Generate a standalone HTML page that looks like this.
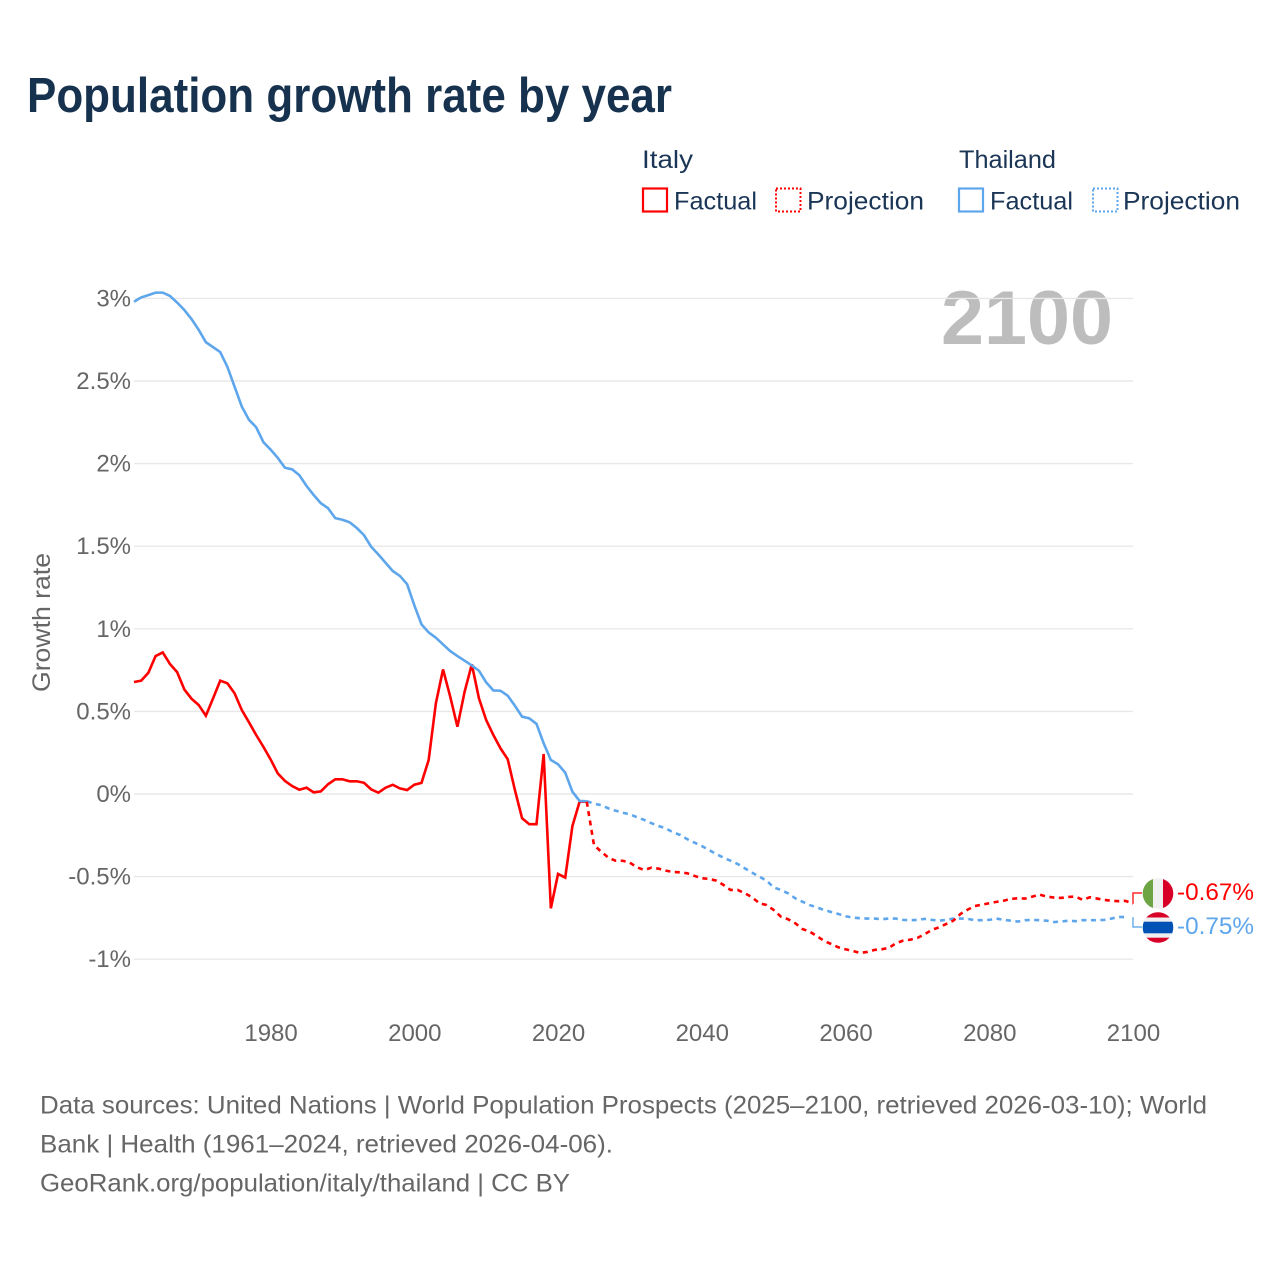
<!DOCTYPE html>
<html lang="en">
<head>
<meta charset="utf-8">
<title>Population growth rate by year</title>
<style>
html,body{margin:0;padding:0;background:#fff;width:1280px;height:1280px;overflow:hidden}
svg{display:block;font-family:"Liberation Sans",sans-serif}
</style>
</head>
<body>
<svg id="chart" xmlns="http://www.w3.org/2000/svg" width="1280" height="1280" viewBox="0 0 1280 1280">
  <rect width="1280" height="1280" fill="#fff"/>
  <text x="27" y="112" font-size="49" font-weight="700" fill="#17324f" textLength="645" lengthAdjust="spacingAndGlyphs">Population growth rate by year</text>

  <g font-size="25" fill="#1a3555">
    <text x="642" y="168" textLength="51" lengthAdjust="spacingAndGlyphs">Italy</text>
    <text x="959" y="168" textLength="97" lengthAdjust="spacingAndGlyphs">Thailand</text>
    <rect x="643" y="188.5" width="24" height="23" fill="none" stroke="#ff0000" stroke-width="2.2"/>
    <text x="674" y="209.5" textLength="83" lengthAdjust="spacingAndGlyphs">Factual</text>
    <rect x="776" y="188.5" width="24.500" height="23" fill="none" stroke="#ff0000" stroke-width="2" stroke-dasharray="2 2"/>
    <text x="807" y="209.5" textLength="117" lengthAdjust="spacingAndGlyphs">Projection</text>
    <rect x="959" y="188.5" width="24" height="23" fill="none" stroke="#5ea6ec" stroke-width="2.2"/>
    <text x="990" y="209.5" textLength="83" lengthAdjust="spacingAndGlyphs">Factual</text>
    <rect x="1093" y="188.5" width="24.500" height="23" fill="none" stroke="#5ea6ec" stroke-width="2" stroke-dasharray="2 2"/>
    <text x="1123" y="209.5" textLength="117" lengthAdjust="spacingAndGlyphs">Projection</text>
  </g>

  <text x="941" y="344" font-size="76" font-weight="700" fill="#bdbdbd" textLength="172" lengthAdjust="spacingAndGlyphs">2100</text>

  <g id="grid"></g>
  <g id="yTicks" font-size="24" fill="#666"></g>
  <g id="xTicks" font-size="24" fill="#666"></g>
  <text transform="translate(50 692) rotate(-90)" font-size="25" fill="#666" textLength="139" lengthAdjust="spacingAndGlyphs">Growth rate</text>
  <g id="series"></g>

  <g>
    <clipPath id="clipItaly"><circle cx="1158" cy="893.500" r="15.300"/></clipPath>
    <g clip-path="url(#clipItaly)">
      <rect x="1142" y="878" width="11" height="31" fill="#6da544"/>
      <rect x="1153" y="878" width="10" height="31" fill="#f0f0f0"/>
      <rect x="1163" y="878" width="11" height="31" fill="#d80027"/>
    </g>
  </g>
  <g>
    <clipPath id="clipThailand"><circle cx="1158" cy="927.500" r="15.300"/></clipPath>
    <g clip-path="url(#clipThailand)">
      <rect x="1142" y="912" width="32" height="31" fill="#f0f0f0"/>
      <rect x="1142" y="912" width="32" height="5.500" fill="#d80027"/>
      <rect x="1142" y="921.700" width="32" height="11.600" fill="#0052b4"/>
      <rect x="1142" y="937.700" width="32" height="5.500" fill="#d80027"/>
    </g>
  </g>
  <g id="valueLabels" font-size="24"></g>

  <g font-size="25" fill="#666">
    <text x="40" y="1113.500" textLength="1167" lengthAdjust="spacingAndGlyphs">Data sources: United Nations | World Population Prospects (2025–2100, retrieved 2026-03-10); World</text>
    <text x="40" y="1152.500" textLength="573" lengthAdjust="spacingAndGlyphs">Bank | Health (1961–2024, retrieved 2026-04-06).</text>
    <text x="40" y="1191.500" textLength="530" lengthAdjust="spacingAndGlyphs">GeoRank.org/population/italy/thailand | CC BY</text>
  </g>
</svg>
<script>
const factualStartYear = 1961;
const projectionStartYear = 2024;
const yTickValues = [3, 2.5, 2, 1.5, 1, 0.5, 0, -0.5, -1];
const yTickLabels = ["3%", "2.5%", "2%", "1.5%", "1%", "0.5%", "0%", "-0.5%", "-1%"];
const xTickValues = [1980, 2000, 2020, 2040, 2060, 2080, 2100];
const xTickLabels = ["1980", "2000", "2020", "2040", "2060", "2080", "2100"];
const endValueLabels = ["-0.67%", "-0.75%"];

const italyFactual = [0.678,0.686,0.734,0.835,0.857,0.787,0.738,0.633,0.577,0.539,0.474,0.579,0.686,0.670,0.609,0.508,0.434,0.357,0.286,0.210,0.125,0.079,0.048,0.026,0.038,0.010,0.016,0.059,0.089,0.089,0.077,0.077,0.068,0.028,0.008,0.038,0.056,0.034,0.024,0.056,0.067,0.206,0.549,0.754,0.589,0.407,0.619,0.785,0.579,0.448,0.357,0.276,0.210,0.024,-0.147,-0.183,-0.183,0.242,-0.692,-0.484,-0.506,-0.194,-0.047,-0.047];
const thailandFactual = [2.98,3.006,3.02,3.035,3.035,3.015,2.975,2.93,2.875,2.81,2.735,2.705,2.675,2.585,2.465,2.345,2.265,2.22,2.13,2.085,2.035,1.975,1.965,1.93,1.865,1.81,1.76,1.73,1.67,1.66,1.645,1.61,1.567,1.497,1.45,1.40,1.35,1.32,1.27,1.143,1.027,0.978,0.946,0.905,0.865,0.835,0.807,0.778,0.746,0.676,0.627,0.625,0.595,0.534,0.468,0.458,0.425,0.307,0.206,0.18,0.129,0.014,-0.042,-0.044];
const italyProjection = [-0.047,-0.309,-0.349,-0.385,-0.404,-0.404,-0.416,-0.444,-0.46,-0.446,-0.452,-0.464,-0.472,-0.474,-0.48,-0.496,-0.51,-0.514,-0.524,-0.55,-0.581,-0.581,-0.601,-0.625,-0.661,-0.672,-0.702,-0.742,-0.758,-0.782,-0.817,-0.833,-0.859,-0.889,-0.908,-0.928,-0.94,-0.95,-0.962,-0.956,-0.944,-0.94,-0.932,-0.904,-0.888,-0.882,-0.871,-0.849,-0.823,-0.807,-0.787,-0.767,-0.726,-0.70,-0.678,-0.67,-0.661,-0.653,-0.646,-0.635,-0.631,-0.633,-0.621,-0.609,-0.621,-0.627,-0.629,-0.623,-0.621,-0.641,-0.625,-0.633,-0.641,-0.646,-0.649,-0.647,-0.665];
const thailandProjection = [-0.044,-0.058,-0.068,-0.087,-0.101,-0.113,-0.123,-0.141,-0.157,-0.177,-0.194,-0.208,-0.232,-0.248,-0.274,-0.295,-0.315,-0.339,-0.363,-0.385,-0.404,-0.424,-0.45,-0.476,-0.5,-0.524,-0.565,-0.581,-0.601,-0.631,-0.652,-0.672,-0.686,-0.702,-0.714,-0.726,-0.74,-0.748,-0.752,-0.754,-0.754,-0.758,-0.754,-0.754,-0.762,-0.764,-0.762,-0.756,-0.762,-0.767,-0.762,-0.754,-0.754,-0.756,-0.764,-0.764,-0.762,-0.754,-0.762,-0.767,-0.772,-0.764,-0.762,-0.764,-0.767,-0.775,-0.772,-0.767,-0.77,-0.764,-0.764,-0.764,-0.762,-0.754,-0.744,-0.745];

const SVG_NS = "http://www.w3.org/2000/svg";
const plotLeft = 134, plotRight = 1133, zeroY = 794, pxPerPercent = 165.2;
const xMinYear = 1961, xMaxYear = 2100;
function xScale(year) { return plotLeft + (year - xMinYear) * (plotRight - plotLeft) / (xMaxYear - xMinYear); }
function yScale(value) { return zeroY - value * pxPerPercent; }
function make(tag, parent) {
  const el = document.createElementNS(SVG_NS, tag);
  parent.appendChild(el);
  return el;
}
function linePath(values, startYear) {
  return values.map(function (v, i) {
    return (i ? "L" : "M") + xScale(startYear + i).toFixed(2) + " " + yScale(v).toFixed(2);
  }).join("");
}

const grid = document.getElementById("grid");
const yTicks = document.getElementById("yTicks");
yTickValues.forEach(function (v, i) {
  const line = make("line", grid);
  
  
  line.setAttribute("x1", plotLeft);
  line.setAttribute("x2", plotRight);
  line.setAttribute("y1", yScale(v));
  line.setAttribute("y2", yScale(v));
  line.setAttribute("stroke", "#e8e8e8");
  line.setAttribute("stroke-width", "1.4");
  const label = make("text", yTicks);
  
  
  label.setAttribute("x", 131);
  label.setAttribute("y", yScale(v) + 8);
  label.setAttribute("text-anchor", "end");
  label.textContent = yTickLabels[i];
});

const xTicks = document.getElementById("xTicks");
xTickValues.forEach(function (v, i) {
  const label = make("text", xTicks);
  
  
  label.setAttribute("x", xScale(v) + 0.5);
  label.setAttribute("y", 1041);
  label.setAttribute("text-anchor", "middle");
  label.textContent = xTickLabels[i];
});

const series = document.getElementById("series");

const italyFactualLine = make("path", series);


italyFactualLine.setAttribute("d", linePath(italyFactual, factualStartYear));
italyFactualLine.setAttribute("fill", "none");
italyFactualLine.setAttribute("stroke", "#ff0000");
italyFactualLine.setAttribute("stroke-width", "2.6");

const thailandFactualLine = make("path", series);


thailandFactualLine.setAttribute("d", linePath(thailandFactual, factualStartYear));
thailandFactualLine.setAttribute("fill", "none");
thailandFactualLine.setAttribute("stroke", "#5ea6ec");
thailandFactualLine.setAttribute("stroke-width", "2.6");

const thailandProjectionLine = make("path", series);


thailandProjectionLine.setAttribute("d", linePath(thailandProjection, projectionStartYear));
thailandProjectionLine.setAttribute("fill", "none");
thailandProjectionLine.setAttribute("stroke", "#5ea6ec");
thailandProjectionLine.setAttribute("stroke-width", "2.6");
thailandProjectionLine.setAttribute("stroke-dasharray", "5 4.500");

const italyProjectionLine = make("path", series);


italyProjectionLine.setAttribute("d", linePath(italyProjection, projectionStartYear));
italyProjectionLine.setAttribute("fill", "none");
italyProjectionLine.setAttribute("stroke", "#ff0000");
italyProjectionLine.setAttribute("stroke-width", "2.6");
italyProjectionLine.setAttribute("stroke-dasharray", "5 4.500");

const italyEndY = yScale(italyProjection[italyProjection.length - 1]);
const thailandEndY = yScale(thailandProjection[thailandProjection.length - 1]);

const italyConnector = make("path", series);


italyConnector.setAttribute("d", "M" + plotRight + " " + italyEndY + "V893H1142");
italyConnector.setAttribute("fill", "none");
italyConnector.setAttribute("stroke", "#ff2a2a");
italyConnector.setAttribute("stroke-width", "1.5");

const thailandConnector = make("path", series);


thailandConnector.setAttribute("d", "M" + plotRight + " " + thailandEndY + "V927H1142");
thailandConnector.setAttribute("fill", "none");
thailandConnector.setAttribute("stroke", "#6fb0ef");
thailandConnector.setAttribute("stroke-width", "1.5");

const valueLabels = document.getElementById("valueLabels");

const italyValue = make("text", valueLabels);


italyValue.setAttribute("x", 1177);
italyValue.setAttribute("y", 900);
italyValue.setAttribute("fill", "#ff0000");
italyValue.setAttribute("textLength", "77");
italyValue.setAttribute("lengthAdjust", "spacingAndGlyphs");
italyValue.textContent = endValueLabels[0];

const thailandValue = make("text", valueLabels);


thailandValue.setAttribute("x", 1177);
thailandValue.setAttribute("y", 934);
thailandValue.setAttribute("fill", "#5ea6ec");
thailandValue.setAttribute("textLength", "77");
thailandValue.setAttribute("lengthAdjust", "spacingAndGlyphs");
thailandValue.textContent = endValueLabels[1];
</script>
</body>
</html>
